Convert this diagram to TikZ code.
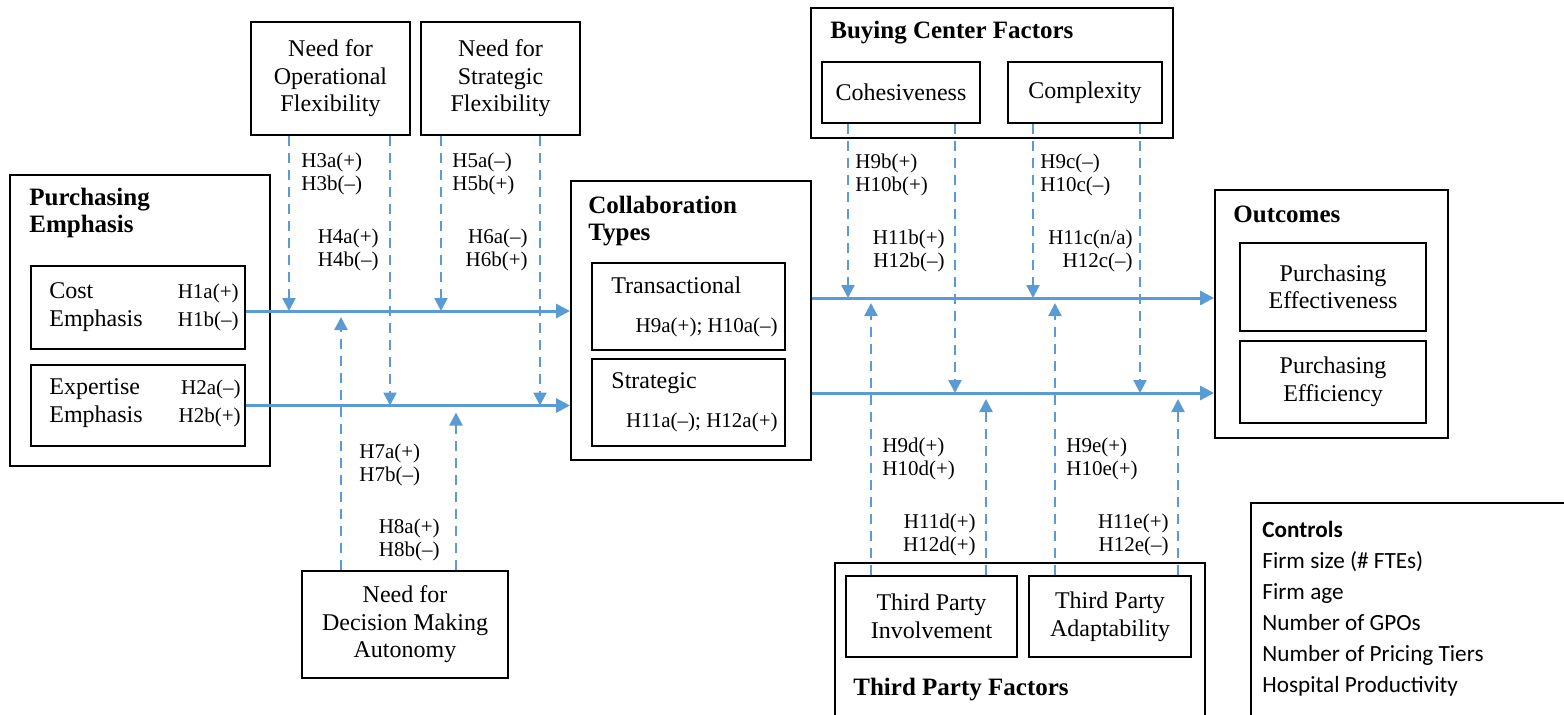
\documentclass[tikz,border=0pt]{standalone}
\usepackage{fontspec}
\setmainfont{Liberation Serif}
\newfontfamily\ctrlfont{Carlito}
\usetikzlibrary{calc,positioning,arrows.meta}
\definecolor{linkblue}{RGB}{91,155,213}
\tikzset{
	box/.style={draw, line width=1pt, inner sep=0pt, align=center, font=\fontsize{12}{13.75}\selectfont},
	title/.style={inner sep=0pt, anchor=base west, align=left, font=\fontsize{12.5}{13.5}\selectfont\bfseries},
	txt/.style={inner sep=0pt, anchor=base west, align=left, font=\fontsize{12}{14}\selectfont},
	hyp/.style={inner sep=0pt, font=\fontsize{10.5}{11.5}\selectfont},
	hypl/.style={hyp, anchor=base west, align=left},
	hypr/.style={hyp, anchor=base east, align=right},
	flow/.style={draw=linkblue, line width=1.5pt, -{Triangle[length=7pt,width=7pt]}},
	modline/.style={draw=linkblue, line width=1.25pt, dash pattern=on 5pt off 3.5pt, -{Triangle[length=6.5pt,width=6.5pt]}},
}

\begin{document}
\begin{tikzpicture}[x=0.5pt, y=-0.5pt]
	\useasboundingbox (0,0) rectangle (1564,714);
	\clip (0,0) rectangle (1564,714);
	%%%%% GROUPS %%%%%
	
	\node[box, minimum width=130pt, minimum height=145.5pt] (purch) at (140,320.5) {};
	\node[box, minimum width=120pt, minimum height=139.5pt] (collab) at (691,320.5) {};
	\node[box, minimum width=181pt, minimum height=65pt] (buying) at (992,73) {};
	\node[box, minimum width=185pt, minimum height=78.5pt] (third) at (1020,641.5) {};
	\node[box, minimum width=116.5pt, minimum height=124pt] (outcomes) at (1331.5,314) {};
	\node[box, minimum width=164.5pt, minimum height=113.5pt] (controls) at (1415.5,616.5) {};
	
	% base anchor sits on the last line
	\node[title] (purchtitle) at (29,232) {Purchasing\\Emphasis};
	\node[title] (collabtitle) at (588,240) {Collaboration\\Types};
	\node[title] (buyingtitle) at (830,38) {Buying Center Factors};
	\node[title] (outtitle) at (1233,222) {Outcomes};
	\node[title] (thirdtitle) at (853,695) {Third Party Factors};
	\node[txt, font=\ctrlfont\fontsize{11.6}{15.5}\selectfont] (ctrltext) at (1262,692) {\textbf{Controls}\\Firm size (\# FTEs)\\Firm age\\Number of GPOs\\Number of Pricing Tiers\\Hospital Productivity};
	
	%%%%% CONSTRUCTS %%%%%
	
	\node[box, minimum width=79.5pt, minimum height=56.5pt] (opflex) at (330.5,78.5) {Need for\\Operational\\Flexibility};
	\node[box, minimum width=79.5pt, minimum height=56.5pt] (stratflex) at (500.5,78.5) {Need for\\Strategic\\Flexibility};
	\node[box, minimum width=103pt, minimum height=53.5pt] (autonomy) at (405,624.5) {Need for\\Decision Making\\Autonomy};
	
	\node[box, minimum width=107pt, minimum height=41.5pt] (cost) at (138,307.5) {};
	\node[box, minimum width=107pt, minimum height=40.5pt] (expert) at (138,405.5) {};
	\node[txt] (costtxt) at (49,326) {Cost\\Emphasis};
	\node[hypr, font=\fontsize{10.5}{14}\selectfont] (h1) at (239,326) {H1a(+)\\H1b(–)};
	\node[txt] (experttxt) at (49,422) {Expertise\\Emphasis};
	\node[hypr, font=\fontsize{10.5}{14}\selectfont] (h2) at (241,422) {H2a(–)\\H2b(+)};
	
	\node[box, minimum width=96.5pt, minimum height=43.5pt] (trans) at (688.5,306.5) {};
	\node[box, minimum width=96.5pt, minimum height=43.5pt] (strat) at (688.5,402.5) {};
	\node[txt] (transtxt) at (611,293) {Transactional};
	\node[hypr] (h9a) at (778,332) {H9a(+); H10a(–)};
	\node[txt] (strattxt) at (611,388) {Strategic};
	\node[hypr] (h11a) at (778,427) {H11a(–); H12a(+)};
	
	\node[box, minimum width=79pt, minimum height=30.5pt] (cohes) at (901,92.5) {Cohesiveness};
	\node[box, minimum width=77pt, minimum height=30.5pt] (complex) at (1085,92.5) {Complexity};
	\node[box, minimum width=85.5pt, minimum height=40.5pt] (tpinv) at (931.5,616.5) {Third Party\\Involvement};
	\node[box, minimum width=81pt, minimum height=40.5pt] (tpadapt) at (1110,616.5) {Third Party\\Adaptability};
	\node[box, minimum width=93pt, minimum height=44pt] (effect) at (1333,287) {Purchasing\\Effectiveness};
	\node[box, minimum width=93pt, minimum height=41pt] (effic) at (1333,382) {Purchasing\\Efficiency};
	
	%%%%% MAIN PATHS %%%%%
	
	\draw[flow] ($(cost.east)+(0,3.5)$) coordinate (pe1) -- (pe1 -| collab.west);
	\draw[flow] (expert.east) coordinate (pe2) -- (pe2 -| collab.west);
	\draw[flow] ($(trans.east -| collab.east)+(0,-8.5)$) coordinate (ct1) -- (ct1 -| outcomes.west);
	\draw[flow] ($(strat.east -| collab.east)+(0,-9.5)$) coordinate (ct2) -- (ct2 -| outcomes.west);
	
	%%%%% MODERATORS %%%%%
	
	\draw[modline] ($(opflex.south)+(-41.5,0)$) coordinate (m1) -- (m1 |- pe1);
	\draw[modline] ($(opflex.south)+(59.5,0)$) coordinate (m2) -- (m2 |- pe2);
	\draw[modline] ($(stratflex.south)+(-59.5,0)$) coordinate (m3) -- (m3 |- pe1);
	\draw[modline] ($(stratflex.south)+(39.5,0)$) coordinate (m4) -- (m4 |- pe2);
	\draw[modline] ($(autonomy.north)+(-64,0)$) coordinate (m5) -- ($(m5 |- pe1)+(0,6)$);
	\draw[modline] ($(autonomy.north)+(51,0)$) coordinate (m6) -- ($(m6 |- pe2)+(0,7)$);
	\draw[modline] ($(cohes.south)+(-53,0)$) coordinate (m7) -- (m7 |- ct1);
	\draw[modline] ($(cohes.south)+(54,0)$) coordinate (m8) -- (m8 |- ct2);
	\draw[modline] ($(complex.south)+(-52,0)$) coordinate (m9) -- (m9 |- ct1);
	\draw[modline] ($(complex.south)+(55,0)$) coordinate (m10) -- (m10 |- ct2);
	\draw[modline] ($(tpinv.north)+(-60.5,0)$) coordinate (m11) -- ($(m11 |- ct1)+(0,5)$);
	\draw[modline] ($(tpinv.north)+(54.5,0)$) coordinate (m12) -- ($(m12 |- ct2)+(0,6)$);
	\draw[modline] ($(tpadapt.north)+(-55,0)$) coordinate (m13) -- ($(m13 |- ct1)+(0,5)$);
	\draw[modline] ($(tpadapt.north)+(68,0)$) coordinate (m14) -- ($(m14 |- ct2)+(0,6)$);
	
	\node[hypl] (h3) at (301,190) {H3a(+)\\H3b(–)};
	\node[hypr] (h4) at (379,266) {H4a(+)\\H4b(–)};
	\node[hypl] (h5) at (452,190) {H5a(–)\\H5b(+)};
	\node[hypr] (h6) at (528,266) {H6a(–)\\H6b(+)};
	\node[hypl] (h7) at (359,481) {H7a(+)\\H7b(–)};
	\node[hypr] (h8) at (440,556) {H8a(+)\\H8b(–)};
	\node[hypl] (h9b) at (855,191) {H9b(+)\\H10b(+)};
	\node[hypr] (h11b) at (945,267) {H11b(+)\\H12b(–)};
	\node[hypl] (h9c) at (1040,191) {H9c(–)\\H10c(–)};
	\node[hypr] (h11c) at (1133,267) {H11c(n/a)\\H12c(–)};
	\node[hypl] (h9d) at (882,475) {H9d(+)\\H10d(+)};
	\node[hypr] (h11d) at (976,551) {H11d(+)\\H12d(+)};
	\node[hypl] (h9e) at (1066,475) {H9e(+)\\H10e(+)};
	\node[hypr] (h11e) at (1169,551) {H11e(+)\\H12e(–)};
	
	%%%%% END %%%%%
\end{tikzpicture}
\end{document}
